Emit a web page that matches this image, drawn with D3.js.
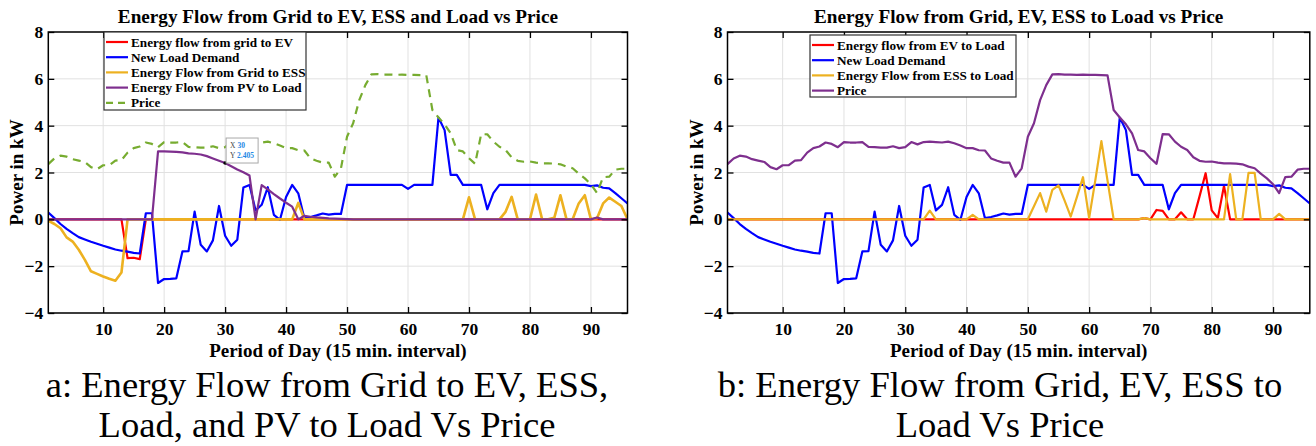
<!DOCTYPE html>
<html>
<head>
<meta charset="utf-8">
<script src="https://cdn.jsdelivr.net/npm/d3@7"></script>
<style>
  html, body { margin: 0; padding: 0; background: #fff; }
  svg { display: block; }
  text { font-family: "Liberation Serif", "Times New Roman", serif; }
</style>
</head>
<body>
<svg id="chart" width="1316" height="446"></svg>
<script>
// ---------------- DATA ----------------
const periods = Array.from({length: 96}, (_, i) => i + 1);
const xTicks = [10, 20, 30, 40, 50, 60, 70, 80, 90];
const yTicks = [-4, -2, 0, 2, 4, 6, 8];

const price = [2.36, 2.6, 2.72, 2.68, 2.57, 2.51, 2.45, 2.23, 2.14, 2.31,
  2.31, 2.51, 2.53, 2.85, 3.04, 3.11, 3.28, 3.22, 3.08, 3.3,
  3.28, 3.28, 3.3, 3.09, 3.08, 3.06, 3.06, 3.12, 3.04, 3.08,
  3.3, 3.2, 3.3, 3.32, 3.3, 3.28, 3.32, 3.25, 3.15, 3.04,
  3.04, 2.95, 2.94, 2.6, 2.5, 2.42, 2.42, 1.82, 2.18, 3.53,
  4.1, 5.09, 5.73, 6.19, 6.2, 6.18, 6.18, 6.17, 6.18, 6.17,
  6.17, 6.16, 6.15, 4.67, 4.35, 4.06, 3.67, 2.96, 2.9, 2.61,
  2.37, 3.64, 3.63, 3.32, 3.1, 2.96, 2.65, 2.5, 2.46, 2.47,
  2.42, 2.39, 2.39, 2.38, 2.35, 2.25, 2.18, 1.95, 1.75, 1.5,
  1.12, 1.8, 1.82, 2.12, 2.16, 2.16];

const newLoadDemand = [0.29, 0.05, -0.2, -0.41, -0.59, -0.76, -0.86, -0.96, -1.04, -1.13,
  -1.21, -1.29, -1.34, -1.38, -1.43, -1.46, 0.26, 0.26, -2.72, -2.55,
  -2.54, -2.52, -1.37, -1.36, 0.33, -1.09, -1.37, -0.9, 0.57, -0.7,
  -1.13, -0.87, 1.36, 1.47, 0.38, 0.62, 1.37, 0.19, -0.02, 0.95,
  1.47, 1.11, 0.05, 0.1, 0.17, 0.25, 0.2, 0.23, 0.23, 1.47,
  1.47, 1.47, 1.47, 1.47, 1.47, 1.47, 1.47, 1.47, 1.47, 1.3,
  1.47, 1.47, 1.47, 1.47, 4.35, 3.81, 1.9, 1.9, 1.47, 1.47,
  1.47, 1.47, 0.43, 1.12, 1.47, 1.47, 1.47, 1.47, 1.47, 1.47,
  1.47, 1.47, 1.47, 1.47, 1.47, 1.47, 1.47, 1.47, 1.47, 1.42,
  1.45, 1.35, 1.32, 1.12, 0.9, 0.68];

// Panel a
const gridToEV = [0, 0, 0, 0, 0, 0, 0, 0, 0, 0,
  0, 0, 0, -1.66, -1.64, -1.7, 0, 0, 0, 0,
  0, 0, 0, 0, 0, 0, 0, 0, 0, 0,
  0, 0, 0, 0, 0, 0, 0, 0, 0, 0,
  0, 0, 0, 0, 0, 0, 0, 0, 0, 0,
  0, 0, 0, 0, 0, 0, 0, 0, 0, 0,
  0, 0, 0, 0, 0, 0, 0, 0, 0, 0,
  0, 0, 0, 0, 0, 0, 0, 0, 0, 0,
  0, 0, 0, 0, 0, 0, 0, 0, 0, 0,
  0, 0, 0, 0, 0, 0];

const gridToESS = [-0.06, -0.2, -0.38, -0.77, -0.95, -1.3, -1.73, -2.22, -2.33, -2.44,
  -2.54, -2.62, -2.27, 0, 0, 0, 0, 0, 0, 0,
  0, 0, 0, 0, 0, 0, 0, 0, 0, 0,
  0, 0, 0, 0, 0, 0, 0, 0, 0, 0,
  0, 0.7, 0, 0, 0, 0, 0, 0, 0, 0,
  0, 0, 0, 0, 0, 0, 0, 0, 0, 0,
  0, 0, 0, 0, 0, 0, 0, 0, 0, 0.94,
  0, 0, 0, 0, 0, 0.32, 0.96, 0, 0, 0,
  1.06, 0, 0, 0.07, 1.03, 0, 0, 0.68, 1.03, 0,
  0.05, 0.68, 0.93, 0.75, 0.57, 0];

const pvToLoad = [0, 0, 0, 0, 0, 0, 0, 0, 0, 0,
  0, 0, 0, 0, 0, 0, 0, 0, 2.9, 2.9,
  2.89, 2.88, 2.86, 2.82, 2.8, 2.77, 2.7, 2.6, 2.5, 2.405,
  2.27, 2.13, 2.01, 1.87, 0, 1.46, 1.28, 1.08, 0.89, 0.71,
  0.54, 0, 0.15, 0.11, 0.08, 0.06, 0.04, 0.03, 0.02, 0.01,
  0, 0, 0, 0, 0, 0, 0, 0, 0, 0,
  0, 0, 0, 0, 0, 0, 0, 0, 0, 0,
  0, 0, 0, 0, 0, 0, 0, 0, 0, 0,
  0, 0, 0, 0, 0, 0, 0, 0, 0, 0,
  0.08, 0, 0, 0, 0, 0];

// Panel b
const evToLoad = [0, 0, 0, 0, 0, 0, 0, 0, 0, 0,
  0, 0, 0, 0, 0, 0, 0, 0, 0, 0,
  0, 0, 0, 0, 0, 0, 0, 0, 0, 0,
  0, 0, 0, 0, 0, 0, 0, 0, 0, 0,
  0, 0, 0, 0, 0, 0, 0, 0, 0, 0,
  0, 0, 0, 0, 0, 0, 0, 0, 0, 0,
  0, 0, 0, 0, 0, 0, 0, 0, 0.05, 0,
  0.4, 0.36, 0, 0, 0.3, 0, 0, 0.97, 1.97, 0.38,
  0.05, 1.43, 0, 0, 0, 0, 0, 0, 0, 0,
  0, 0, 0, 0, 0, 0];

const essToLoad = [0, 0, 0, 0, 0, 0, 0, 0, 0, 0,
  0, 0, 0, 0, 0, 0, 0, 0, 0, 0,
  0, 0, 0, 0, 0, 0, 0, 0, 0, 0,
  0, 0, 0, 0.37, 0, 0, 0, 0, 0, 0,
  0.19, 0, 0, 0, 0, 0, 0, 0, 0, 0,
  0.56, 1.12, 0.33, 1.26, 1.45, 0.8, 0.12, 0.95, 1.8, 0.05,
  1.65, 3.34, 1.65, 0, 0, 0, 0, 0, 0.05, 0,
  0, 0, 0, 0, 0, 0, 0, 0, 0, 0,
  0, 0, 1.93, 0, 0, 1.98, 1.98, 0, 0, 0,
  0.23, 0, 0, 0, 0, 0];

const titleA = "Energy Flow from Grid to EV, ESS and Load vs Price";
const titleB = "Energy Flow from Grid, EV, ESS to Load vs Price";
const xLabel = "Period of Day (15 min. interval)";
const yLabel = "Power in kW";
const captionA = ["a: Energy Flow from Grid to EV, ESS,", "Load, and PV to Load Vs Price"];
const captionB = ["b: Energy Flow from Grid, EV, ESS to", "Load Vs Price"];
const legendA = ["Energy flow from grid to EV", "New Load Demand", "Energy Flow from Grid to ESS", "Energy Flow from PV to Load", "Price"];
const legendB = ["Energy flow from EV to Load", "New Load Demand", "Energy Flow from ESS to Load", "Price"];
const dataTip = {x: 30};

// ---------------- STYLE ----------------
const C = {red: "#FF0000", blue: "#0000FF", orange: "#EDB120", purple: "#7E2F8E", green: "#77AC30"};

const svg = d3.select("#chart");

function drawPanel(cfg) {
  const g = svg.append("g");
  const x = d3.scaleLinear().domain([1, 96]).range([cfg.left, cfg.right]);
  const y = d3.scaleLinear().domain([-4, 8]).range([cfg.bottom, cfg.top]);

  // grid
  g.append("g").selectAll("line.gx").data(xTicks).join("line")
    .attr("x1", d => x(d)).attr("x2", d => x(d))
    .attr("y1", cfg.top).attr("y2", cfg.bottom)
    .attr("stroke", "#e1e1e1").attr("stroke-width", 1);
  g.append("g").selectAll("line.gy").data(yTicks).join("line")
    .attr("x1", cfg.left).attr("x2", cfg.right)
    .attr("y1", d => y(d)).attr("y2", d => y(d))
    .attr("stroke", "#e1e1e1").attr("stroke-width", 1);

  // series
  const clip = "clip" + cfg.id;
  g.append("clipPath").attr("id", clip).append("rect")
    .attr("x", cfg.left).attr("y", cfg.top)
    .attr("width", cfg.right - cfg.left).attr("height", cfg.bottom - cfg.top);
  const line = d3.line().x((d, i) => x(periods[i])).y(d => y(d));
  const sg = g.append("g").attr("clip-path", `url(#${clip})`);
  cfg.series.forEach(s => {
    sg.append("path").datum(s.values)
      .attr("d", line)
      .attr("fill", "none")
      .attr("stroke", s.color)
      .attr("stroke-width", s.width || 2.2)
      .attr("stroke-linejoin", "round")
      .attr("stroke-dasharray", s.dash || null);
  });

  // axes
  const ax = g.append("g").attr("transform", `translate(0,${cfg.bottom})`)
    .call(d3.axisBottom(x).tickValues(xTicks).tickSize(-6).tickPadding(10).tickFormat(d3.format("d")));
  const axTop = g.append("g").attr("transform", `translate(0,${cfg.top})`)
    .call(d3.axisTop(x).tickValues(xTicks).tickSize(-6).tickFormat(""));
  const ay = g.append("g").attr("transform", `translate(${cfg.left},0)`)
    .call(d3.axisLeft(y).tickValues(yTicks).tickSize(-6).tickPadding(5).tickFormat(d3.format("d")));
  const ayR = g.append("g").attr("transform", `translate(${cfg.right},0)`)
    .call(d3.axisRight(y).tickValues(yTicks).tickSize(-6).tickFormat(""));
  [ax, axTop, ay, ayR].forEach(a => {
    a.select(".domain").remove();
    a.selectAll(".tick line").attr("stroke", "#000").attr("stroke-width", 1.3);
    a.selectAll("text").attr("font-family", "Liberation Serif, serif")
      .attr("font-weight", "bold").attr("font-size", 17.5).attr("fill", "#000");
  });
  g.append("rect").attr("x", cfg.left).attr("y", cfg.top)
    .attr("width", cfg.right - cfg.left).attr("height", cfg.bottom - cfg.top)
    .attr("fill", "none").attr("stroke", "#000").attr("stroke-width", 1.5);

  // title and labels
  g.append("text").attr("x", (cfg.left + cfg.right) / 2).attr("y", cfg.top - 9)
    .attr("text-anchor", "middle").attr("font-weight", "bold").attr("font-size", 19.2)
    .text(cfg.title);
  g.append("text").attr("x", (cfg.left + cfg.right) / 2).attr("y", cfg.bottom + 44)
    .attr("text-anchor", "middle").attr("font-weight", "bold").attr("font-size", 19)
    .text(xLabel);
  g.append("text")
    .attr("transform", `translate(${cfg.left - 25},${(cfg.top + cfg.bottom) / 2}) rotate(-90)`)
    .attr("text-anchor", "middle").attr("font-weight", "bold").attr("font-size", 19)
    .text(yLabel);

  // caption
  cfg.caption.forEach((t, i) => {
    g.append("text").attr("x", cfg.capX).attr("y", 397 + i * 40)
      .attr("text-anchor", "middle").attr("font-size", 36.6).attr("fill", "#000")
      .text(t);
  });

  // legend
  const L = cfg.legend;
  const lg = g.append("g");
  lg.append("rect").attr("x", L.x).attr("y", L.y).attr("width", L.w).attr("height", L.h)
    .attr("fill", "#fff").attr("stroke", "#333").attr("stroke-width", 1.2);
  L.items.forEach((name, i) => {
    const s = cfg.series[L.order[i]];
    const yy = L.y + 10 + i * 15.2;
    lg.append("line").attr("x1", L.x + 2).attr("x2", L.x + 24).attr("y1", yy).attr("y2", yy)
      .attr("stroke", s.color).attr("stroke-width", 2.2).attr("stroke-dasharray", s.dash ? "7,5" : null);
    lg.append("text").attr("x", L.x + 27).attr("y", yy + 4.5)
      .attr("font-weight", "bold").attr("font-size", 13.2).text(name);
  });

  if (cfg.tip) {
    const px = x(cfg.tip.x), py = y(cfg.tip.values[cfg.tip.x - 1]);
    g.append("circle").attr("cx", px).attr("cy", py).attr("r", 1.8).attr("fill", "#000");
    const tg = g.append("g").attr("transform", `translate(${px + 1},${py - 25})`);
    tg.append("rect").attr("width", 32).attr("height", 25).attr("fill", "#fff")
      .attr("stroke", "#a8a8a8").attr("stroke-width", 1);
    const rows = [["X", String(cfg.tip.x)], ["Y", String(cfg.tip.values[cfg.tip.x - 1])]];
    rows.forEach((r, i) => {
      const t = tg.append("text").attr("x", 4).attr("y", 10 + i * 10)
        .attr("font-family", "DejaVu Sans, sans-serif").attr("font-size", 7.5);
      t.append("tspan").attr("fill", "#444").text(r[0] + " ");
      t.append("tspan").attr("fill", "#1e88e5").attr("font-weight", "bold").text(r[1]);
    });
  }
}

drawPanel({
  id: "a", left: 48.3, right: 627.5, top: 32, bottom: 313,
  title: titleA, caption: captionA, capX: 327,
  series: [
    {values: gridToEV, color: C.red},
    {values: newLoadDemand, color: C.blue},
    {values: gridToESS, color: C.orange, width: 2.6},
    {values: pvToLoad, color: C.purple},
    {values: price, color: C.green, dash: "8,6"}
  ],
  legend: {x: 104, y: 32, w: 202, h: 78, items: legendA, order: [0, 1, 2, 3, 4]},
  tip: {x: dataTip.x, values: pvToLoad}
});

drawPanel({
  id: "b", left: 727.5, right: 1309.8, top: 32, bottom: 313,
  title: titleB, caption: captionB, capX: 1000,
  series: [
    {values: evToLoad, color: C.red},
    {values: newLoadDemand, color: C.blue},
    {values: essToLoad, color: C.orange},
    {values: price, color: C.purple}
  ],
  legend: {x: 810, y: 35, w: 206, h: 62, items: legendB, order: [0, 1, 2, 3]}
});
</script>
</body>
</html>
